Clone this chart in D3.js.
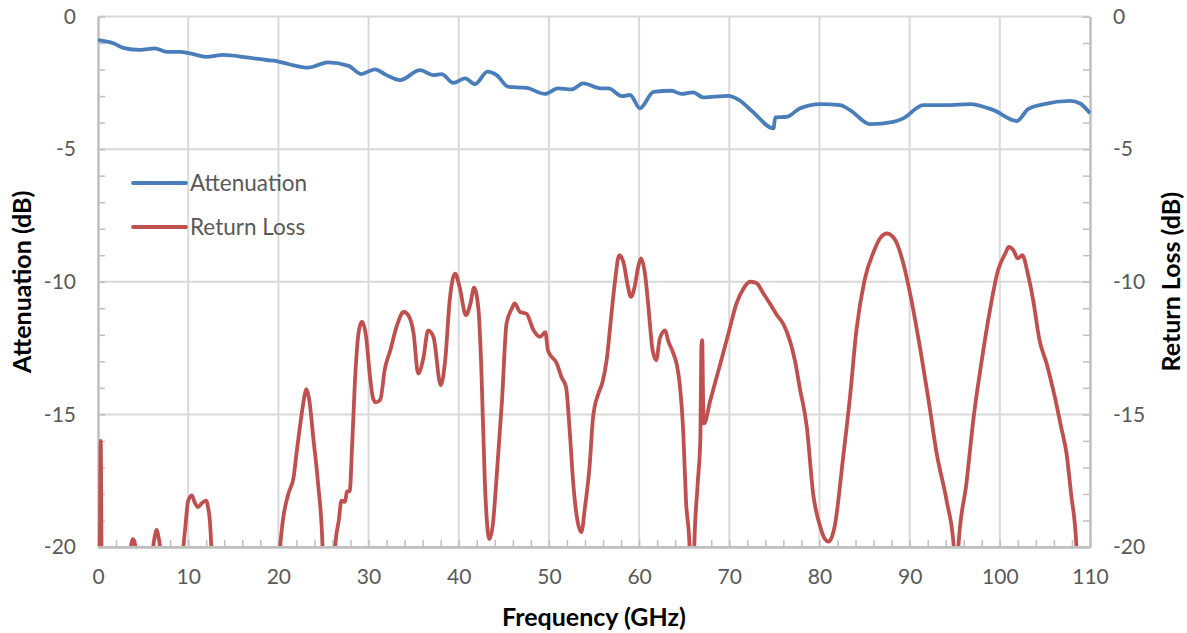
<!DOCTYPE html>
<html><head><meta charset="utf-8">
<script src="https://cdn.jsdelivr.net/npm/d3@7"></script>
<style>body{margin:0;background:#fff}svg{display:block}text{font-family:Lato,"Open Sans",sans-serif}</style>
</head><body><svg id="c" width="1187" height="633"></svg>
<script>
const xTicks = [0,10,20,30,40,50,60,70,80,90,100,110];
const yTicks = [0,-5,-10,-15,-20];
const seriesNames = ["Attenuation","Return Loss"];
const seriesColors = ["#4a7ebb","#c0504d"];

const attFreq = [0,1.7,2.8,4.7,6.3,7.6,9.1,10.2,12.0,13.9,16.5,18.7,19.8,21.2,23.3,25.5,27.8,29.2,30.7,32.0,33.5,35.7,37.2,38.1,39.4,40.7,41.8,43.2,44.2,45.5,47.5,49.6,51.0,52.5,53.8,55.7,56.6,58.1,59.0,60.1,61.6,63.6,64.7,66.0,67.1,69.9,71.1,72.6,74.9,75.1,76.4,77.8,80.1,82.3,83.4,85.6,88.2,89.3,91.5,94.1,96.7,99.3,101.9,103.1,104.8,107.8,108.9,110];
const attDb = [-0.89,-1.01,-1.18,-1.26,-1.20,-1.33,-1.33,-1.39,-1.52,-1.45,-1.54,-1.64,-1.68,-1.80,-1.93,-1.73,-1.86,-2.17,-1.99,-2.21,-2.40,-2.02,-2.21,-2.17,-2.50,-2.33,-2.55,-2.08,-2.21,-2.65,-2.69,-2.92,-2.71,-2.75,-2.52,-2.71,-2.71,-3.00,-2.96,-3.46,-2.84,-2.80,-2.92,-2.86,-3.05,-2.99,-3.15,-3.59,-4.22,-3.80,-3.78,-3.47,-3.30,-3.34,-3.53,-4.06,-3.97,-3.84,-3.34,-3.34,-3.30,-3.53,-3.94,-3.50,-3.31,-3.18,-3.28,-3.65];

const rlFreq = [0,0.15,0.3,0.45,0.8,3.4,3.65,3.85,4.05,4.3,4.5,5.8,6.0,6.3,6.5,6.7,7.0,7.2,9.2,9.4,9.7,10.0,10.4,10.7,11.1,11.5,12.0,12.2,12.4,12.6,12.8,19.8,20.2,20.5,21.1,21.7,22.0,22.5,22.9,23.1,23.4,23.9,24.4,24.9,25.1,26.1,26.3,26.7,27.0,27.4,27.6,27.9,28.2,28.5,28.8,29.1,29.3,29.7,30.2,30.5,30.8,31.3,31.8,32.4,33.1,33.9,34.4,35.0,35.5,36.1,36.6,37.2,38.0,38.5,39.0,39.6,40.1,40.8,41.3,41.7,42.2,42.5,42.9,43.4,43.8,44.2,44.8,45.3,45.9,46.2,46.8,47.5,48.3,49.0,49.6,49.9,50.9,51.4,51.9,52.3,52.7,53.1,53.6,54.0,54.5,54.9,55.5,55.9,56.4,56.9,57.3,57.8,58.3,58.7,59.1,59.5,59.9,60.2,60.7,61.0,61.5,61.9,62.3,62.9,63.2,63.8,64.2,64.5,64.9,65.2,65.6,65.8,66.0,66.1,66.5,66.8,66.9,67.0,67.1,67.2,67.9,69.0,69.9,70.8,71.5,72.3,73.0,73.8,74.5,75.3,76.0,76.7,77.3,77.8,78.6,79.3,80.1,80.6,81.0,81.4,81.7,82.6,83.4,84.1,85.0,86.0,86.7,87.5,88.4,89.3,90.2,91.2,92.1,93.0,94.1,94.9,95.1,95.2,95.4,96.3,97.1,98.0,98.9,99.8,100.6,101.0,101.5,102.0,102.5,103.1,103.7,104.4,105.2,106.1,106.8,107.4,107.9,108.5,108.7,110];
const rlDb = [-23,-23,-16,-23,-23,-23,-20,-19.7,-19.8,-21,-23,-23,-20.5,-19.6,-19.35,-19.6,-20.5,-23,-23,-20.5,-19.2,-18.25,-18.05,-18.3,-18.5,-18.35,-18.25,-18.5,-19.0,-20.3,-23,-23,-20,-19.0,-18.0,-17.35,-16.5,-15.2,-14.3,-14.05,-14.4,-15.97,-17.6,-20,-23,-23,-20,-19,-18.25,-18.3,-17.9,-17.9,-16.0,-13.7,-12.2,-11.6,-11.5,-12.0,-13.7,-14.4,-14.55,-14.45,-13.3,-12.6,-11.7,-11.14,-11.26,-11.96,-13.46,-12.84,-11.83,-12.08,-13.9,-12.96,-10.7,-9.69,-10.2,-11.26,-10.82,-10.22,-11.08,-13.2,-17.6,-19.7,-19.1,-17.37,-14.47,-11.58,-11.0,-10.82,-11.14,-11.2,-11.83,-12.08,-11.9,-12.6,-13.1,-13.6,-13.97,-15.6,-17.6,-18.87,-19.44,-18.5,-17.0,-15.1,-14.2,-13.84,-12.96,-11.33,-10.07,-9.0,-9.31,-10.07,-10.57,-10.2,-9.44,-9.12,-9.82,-10.82,-12.58,-12.96,-12.14,-11.83,-12.2,-12.7,-13.15,-13.84,-15.7,-18.25,-20,-23,-23,-20.2,-17.6,-15.85,-12.5,-12.2,-14.5,-15.35,-14.47,-13.1,-11.96,-10.82,-10.3,-10.0,-10.05,-10.45,-10.82,-11.26,-11.6,-12.2,-13.0,-13.97,-15.48,-17.99,-19.25,-19.7,-19.8,-19.6,-19.2,-16.7,-14.3,-11.83,-9.94,-8.88,-8.37,-8.18,-8.43,-9.31,-10.7,-12.58,-14.47,-16.48,-18.25,-20,-23,-23,-20,-17.6,-15.1,-12.96,-11.08,-9.57,-8.94,-8.69,-8.81,-9.12,-9.0,-9.69,-10.7,-12.2,-13.1,-14.35,-15.48,-16.48,-17.99,-20,-23,-23];

const L=98, R=1090, T=16.5, B=547;
const svg = d3.select("#c");
const x = d3.scaleLinear().domain([0,110]).range([L,R]);
const y = d3.scaleLinear().domain([-20,0]).range([B,T]);
const grid = "#d9d9d9", axisC = "#bfbfbf", lab = "#595959";

svg.append("g").selectAll("line").data(xTicks.slice(1,-1)).join("line")
  .attr("x1",d=>x(d)).attr("x2",d=>x(d)).attr("y1",T).attr("y2",B)
  .attr("stroke",grid).attr("stroke-width",2);
svg.append("g").selectAll("line").data(yTicks.slice(0,-1)).join("line")
  .attr("x1",L).attr("x2",R).attr("y1",d=>y(d)).attr("y2",d=>y(d))
  .attr("stroke",grid).attr("stroke-width",2);

const fmt = d=>String(d);
const minorY = d3.range(-20,1,1);
const minorX = d3.range(0,111,2);
function styleAxis(g){
  g.select(".domain").attr("stroke",axisC).attr("stroke-width",2);
  g.selectAll(".tick line").attr("stroke",axisC).attr("stroke-width",1.5);
  g.selectAll("text").attr("fill",lab).style("font-size","21px").style("font-family","Lato");
}
svg.append("g").attr("transform",`translate(${L},0)`).call(d3.axisRight(y).tickValues(minorY).tickSize(7).tickFormat("").tickSizeOuter(0)).call(styleAxis);
svg.append("g").attr("transform",`translate(${R},0)`).call(d3.axisLeft(y).tickValues(minorY).tickSize(7).tickFormat("").tickSizeOuter(0)).call(styleAxis);
svg.append("g").attr("transform",`translate(0,${B})`).call(d3.axisTop(x).tickValues(minorX).tickSize(7).tickFormat("").tickSizeOuter(0)).call(styleAxis);
svg.append("g").attr("transform",`translate(${L},0)`).call(d3.axisLeft(y).tickValues(yTicks).tickSize(0).tickPadding(22).tickFormat(fmt)).call(styleAxis);
svg.append("g").attr("transform",`translate(${R},0)`).call(d3.axisRight(y).tickValues(yTicks).tickSize(0).tickPadding(23).tickFormat(fmt)).call(styleAxis);
svg.append("g").attr("transform",`translate(0,${B})`).call(d3.axisBottom(x).tickValues(xTicks).tickSize(0).tickPadding(22).tickFormat(fmt)).call(styleAxis);
svg.selectAll(".domain").attr("stroke",axisC).attr("stroke-width",2);

svg.append("clipPath").attr("id","clip").append("rect").attr("x",L).attr("y",T-5).attr("width",R-L+3).attr("height",B-T+5);

const line = d3.line().x(d=>x(d[0])).y(d=>y(d[1])).curve(d3.curveMonotoneX);
const attData = attFreq.map((f,i)=>[f,attDb[i]]);
const rlData = rlFreq.map((f,i)=>[f,rlDb[i]]);
const plot = svg.append("g").attr("clip-path","url(#clip)");
plot.append("path").datum(rlData).attr("d",line).attr("fill","none")
  .attr("stroke",seriesColors[1]).attr("stroke-width",3.8).attr("stroke-linejoin","round");
plot.append("path").datum(attData).attr("d",line).attr("fill","none")
  .attr("stroke",seriesColors[0]).attr("stroke-width",3.8).attr("stroke-linejoin","round");
svg.append("line").attr("x1",L).attr("x2",R).attr("y1",B).attr("y2",B).attr("stroke",axisC).attr("stroke-width",2);

const leg = svg.append("g");
seriesNames.forEach((n,i)=>{
  const yy = 183 + i*44;
  leg.append("line").attr("x1",133).attr("x2",186).attr("y1",yy).attr("y2",yy)
    .attr("stroke",seriesColors[i]).attr("stroke-width",3.8).attr("stroke-linecap","round");
  leg.append("text").attr("x",190).attr("y",yy).attr("dy","0.35em").attr("fill",lab)
    .style("font-size","22.5px").text(n);
});

const tStyle = s=>s.style("font-size","25px").style("font-weight","bold").attr("fill","#000").attr("text-anchor","middle").attr("dy","0.35em");
svg.append("text").attr("x",594).attr("y",617).call(tStyle).text("Frequency (GHz)");
svg.append("text").attr("transform",`translate(22,${(T+B)/2}) rotate(-90)`).call(tStyle).text("Attenuation (dB)");
svg.append("text").attr("transform",`translate(1171,${(T+B)/2}) rotate(-90)`).call(tStyle).text("Return Loss (dB)");
</script></body></html>
